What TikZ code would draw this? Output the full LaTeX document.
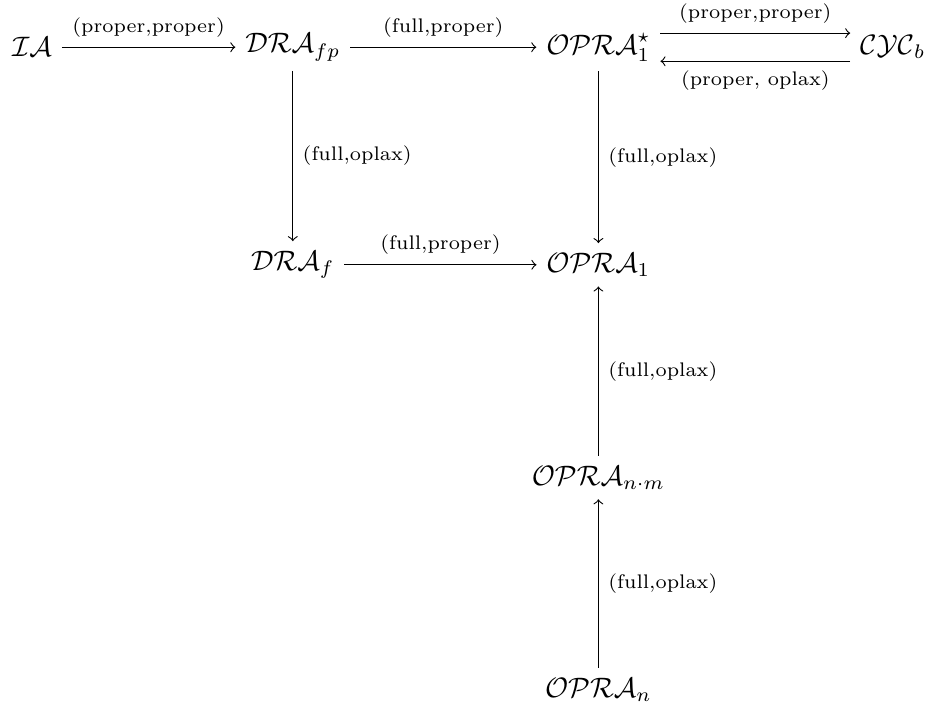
\documentclass[tikz,border=0pt]{standalone}
\usepackage{tikz}
\tikzset{lbl/.style={font=\scriptsize}}

\begin{document}
\begin{tikzpicture}
\useasboundingbox (0,0) rectangle (11.625,-8.8625);
\node (ia) at (.4,-.59){$\mathcal{IA}$};
\node (drafp) at (3.66,-.59){$\mathcal{DRA}_{fp}$};
\node (opras) at (7.48,-.59){$\mathcal{OPRA}_1^\star$};
\node (cyc) at (11.16,-.59){$\mathcal{CYC}_b$};
\node (draf) at (3.66,-3.31){$\mathcal{DRA}_f$};
\node (opra) at (7.48,-3.31){$\mathcal{OPRA}_1$};
\node (opranm) at (7.48,-5.97){$\mathcal{OPRA}_{n\cdot m}$};
\node (opran) at (7.48,-8.62){$\mathcal{OPRA}_n$};

\draw[->](ia)--node[lbl,above]{(proper,proper)}(drafp);
\draw[->](drafp)--node[lbl,above]{(full,proper)}(opras);
\draw[->]([yshift=5pt]opras.east)--node[lbl,above]{(proper,proper)}([yshift=5pt]cyc.west);
\draw[->]([yshift=-5pt]cyc.west)--node[lbl,below]{(proper, oplax)}([yshift=-5pt]opras.east);
\draw[->](draf)--node[lbl,above]{(full,proper)}(opra);
\draw[->](drafp)--node[lbl,right]{(full,oplax)}(draf);
\draw[->](opras)--node[lbl,right]{(full,oplax)}(opra);
\draw[->](opranm)--node[lbl,right]{(full,oplax)}(opra);
\draw[->](opran)--node[lbl,right]{(full,oplax)}(opranm);
\end{tikzpicture}
\end{document}
